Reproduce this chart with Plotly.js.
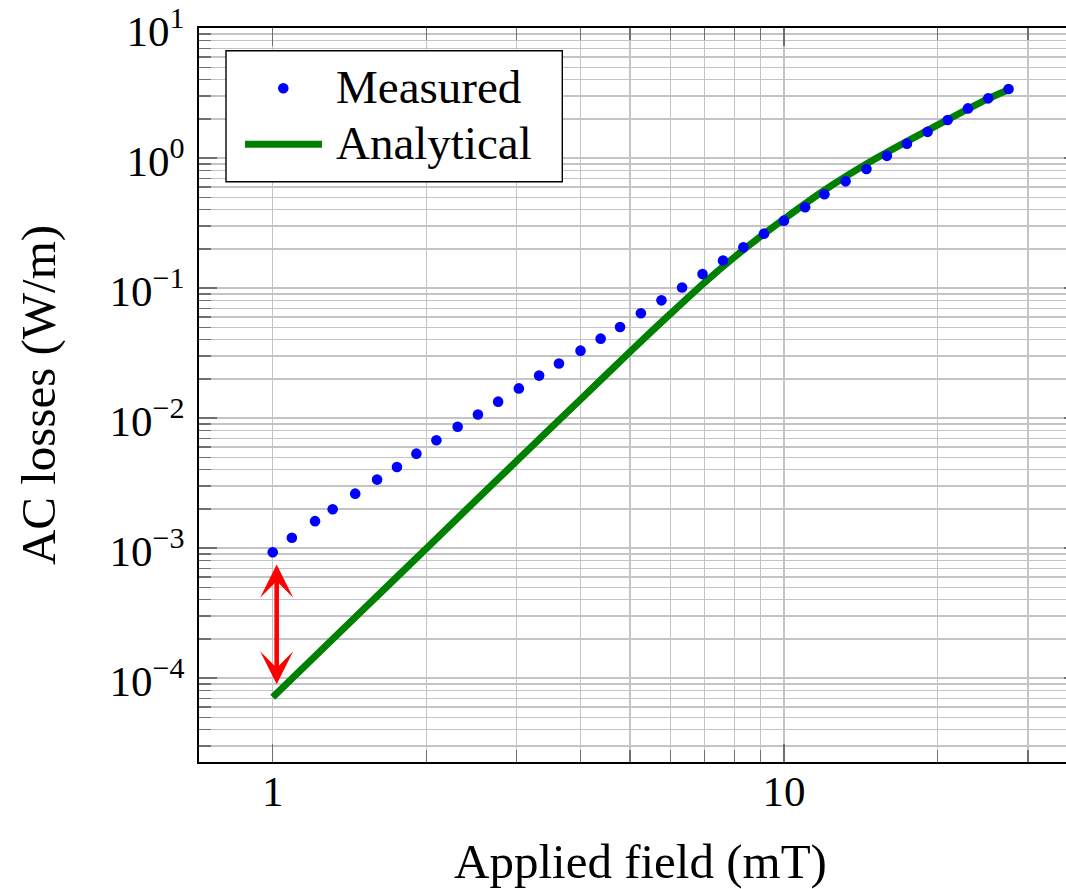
<!DOCTYPE html>
<html>
<head>
<meta charset="utf-8">
<script src="https://cdn.plot.ly/plotly-3.0.1.min.js"></script>
<style>
  html, body { margin: 0; padding: 0; background: #ffffff; overflow: hidden; }
  #chart { width: 1084px; height: 889px; }
</style>
</head>
<body>
<div id="chart"></div>
<script>
// Applied field (mT) and measured AC losses (W/m)
const measuredField = [1.00, 1.09, 1.21, 1.31, 1.45, 1.60, 1.75, 1.91, 2.09, 2.30,
  2.52, 2.76, 3.03, 3.32, 3.63, 4.00, 4.38, 4.78, 5.25, 5.76,
  6.32, 6.93, 7.60, 8.33, 9.14, 10.0, 11.0, 12.0, 13.2, 14.5,
  15.9, 17.4, 19.1, 20.9, 22.9, 25.1, 27.5];
const measuredLoss = [9.27e-4, 1.20e-3, 1.61e-3, 1.99e-3, 2.62e-3, 3.36e-3, 4.20e-3, 5.32e-3, 6.74e-3, 8.56e-3,
  1.064e-2, 1.337e-2, 1.69e-2, 2.12e-2, 2.63e-2, 3.30e-2, 4.08e-2, 5.01e-2, 6.39e-2, 8.04e-2,
  0.101, 0.128, 0.163, 0.206, 0.262, 0.330, 0.418, 0.526, 0.662, 0.823,
  1.04, 1.29, 1.59, 1.96, 2.41, 2.88, 3.40];

// Analytical model curve
const analyticalField = [1, 1.5, 2, 3, 4, 5, 6, 7, 8, 9, 10, 12, 15, 20, 25, 27.5];
const analyticalLoss = [7.11e-5, 3.33e-4, 9.98e-4, 4.68e-3, 1.387e-2, 3.24e-2, 6.35e-2, 0.1107,
  0.173, 0.249, 0.339, 0.565, 0.973, 1.80, 2.84, 3.35];

// Gap between measurement and model at the lowest field
const gapField = 1.018;
const gapTop = 7.67e-4;
const gapBottom = 8.95e-5;

// Axis ticks
const xTickVals = [1, 10];
const xTickText = ['1', '10'];
const xMinorVals = [2, 3, 4, 5, 6, 7, 8, 9, 20, 30];
const yTickVals = [1e-4, 1e-3, 1e-2, 1e-1, 1, 10];
const yTickText = ['10<sup>\u22124</sup>', '10<sup>\u22123</sup>', '10<sup>\u22122</sup>',
  '10<sup>\u22121</sup>', '10<sup>0</sup>', '10<sup>1</sup>'];
const yMinorVals = [];
[1e-5, 1e-4, 1e-3, 1e-2, 1e-1, 1].forEach(function (d) {
  for (let k = 2; k <= 9; k++) {
    const v = k * d;
    if (v >= 3e-5) yMinorVals.push(v);
  }
});

const serif = 'Liberation Serif, Times New Roman, serif';
const gridColor = '#c4c4c4';
const tickColor = '#6f6f6f';

// Plot area in pixels: left 199, right 1082, top 28, bottom 762
const L = 199, R = 1082, T = 28, B = 762;
const px = x => (x - L) / (R - L);
const py = y => (B - y) / (B - T);

const traces = [
  {
    x: analyticalField, y: analyticalLoss,
    type: 'scatter', mode: 'lines', name: 'Analytical',
    line: { color: '#008000', width: 7, shape: 'spline', smoothing: 0.8 },
    hoverinfo: 'skip'
  },
  {
    x: measuredField, y: measuredLoss,
    type: 'scatter', mode: 'markers', name: 'Measured',
    marker: { color: '#0000ff', size: 10.6, line: { width: 0 } },
    hoverinfo: 'skip'
  }
];

const axisCommon = {
  type: 'log',
  showline: true, linecolor: '#000000', linewidth: 1.8,
  mirror: 'ticks',
  ticks: 'inside', ticklen: 18, tickwidth: 1.3, tickcolor: tickColor,
  showgrid: true, gridcolor: gridColor, gridwidth: 1.3,
  zeroline: false,
  ticklabeloverflow: 'allow',
  tickfont: { family: serif, size: 43, color: '#000000' },
  tickmode: 'array'
};

const layout = {
  width: 1084, height: 889,
  margin: { l: L, r: 1084 - R, t: T, b: 889 - B },
  paper_bgcolor: '#ffffff', plot_bgcolor: '#ffffff',
  showlegend: false,
  font: { family: serif, color: '#000000' },
  xaxis: Object.assign({}, axisCommon, {
    range: [-0.1442, 1.5830],
    tickvals: xTickVals, ticktext: xTickText,
    ticklabelstandoff: -9,
    minor: {
      tickmode: 'array', tickvals: xMinorVals,
      ticks: 'inside', ticklen: 12, tickwidth: 1.3, tickcolor: tickColor,
      showgrid: true, gridcolor: gridColor, gridwidth: 1.3
    },
    title: { text: 'Applied field (mT)', font: { family: serif, size: 49, color: '#000000' }, standoff: 40 }
  }),
  yaxis: Object.assign({}, axisCommon, {
    range: [-4.646, 1.0004],
    tickvals: yTickVals, ticktext: yTickText,
    ticklabelstandoff: 4,
    ticklabelshift: 3,
    minor: {
      tickmode: 'array', tickvals: yMinorVals,
      ticks: 'inside', ticklen: 12, tickwidth: 1.3, tickcolor: tickColor,
      showgrid: true, gridcolor: gridColor, gridwidth: 1.3
    },
    title: { text: 'AC losses (W/m)', font: { family: serif, size: 49, color: '#000000' }, standoff: 38 }
  }),
  shapes: [
    // legend frame
    { type: 'rect', xref: 'paper', yref: 'paper', layer: 'above',
      x0: px(226), x1: px(562.3), y0: py(181.7), y1: py(50.7),
      fillcolor: '#ffffff', line: { color: '#000000', width: 1.4 } },
    // legend sample: analytical line
    { type: 'line', xref: 'paper', yref: 'paper', layer: 'above',
      x0: px(245), x1: px(322), y0: py(144.3), y1: py(144.3),
      line: { color: '#008000', width: 7 } },
    // legend sample: measured marker
    { type: 'circle', xref: 'paper', yref: 'paper', layer: 'above',
      xsizemode: 'pixel', ysizemode: 'pixel',
      xanchor: px(283.3), yanchor: py(88.3),
      x0: -5.3, x1: 5.3, y0: -5.3, y1: 5.3,
      fillcolor: '#0000ff', line: { width: 0 } }
  ],
  annotations: [
    { xref: 'paper', yref: 'paper', x: px(334), y: py(87), xanchor: 'left', yanchor: 'middle',
      text: 'Measured', showarrow: false, font: { family: serif, size: 47, color: '#000000' } },
    { xref: 'paper', yref: 'paper', x: px(334), y: py(143), xanchor: 'left', yanchor: 'middle',
      text: 'Analytical', showarrow: false, font: { family: serif, size: 47, color: '#000000' } },
    // double-headed arrow marking the gap at 1 mT
    { xref: 'x', yref: 'y', axref: 'x', ayref: 'y',
      x: Math.log10(gapField), y: Math.log10(gapBottom),
      ax: Math.log10(gapField), ay: Math.log10(gapTop),
      text: '', showarrow: true, arrowside: 'end+start',
      arrowhead: 3, startarrowhead: 3, arrowsize: 1.2, startarrowsize: 1.2,
      arrowwidth: 4.6, arrowcolor: '#ff0000', standoff: 0, startstandoff: 0 }
  ]
};

Plotly.newPlot('chart', traces, layout, { staticPlot: true, displayModeBar: false });
</script>
</body>
</html>
